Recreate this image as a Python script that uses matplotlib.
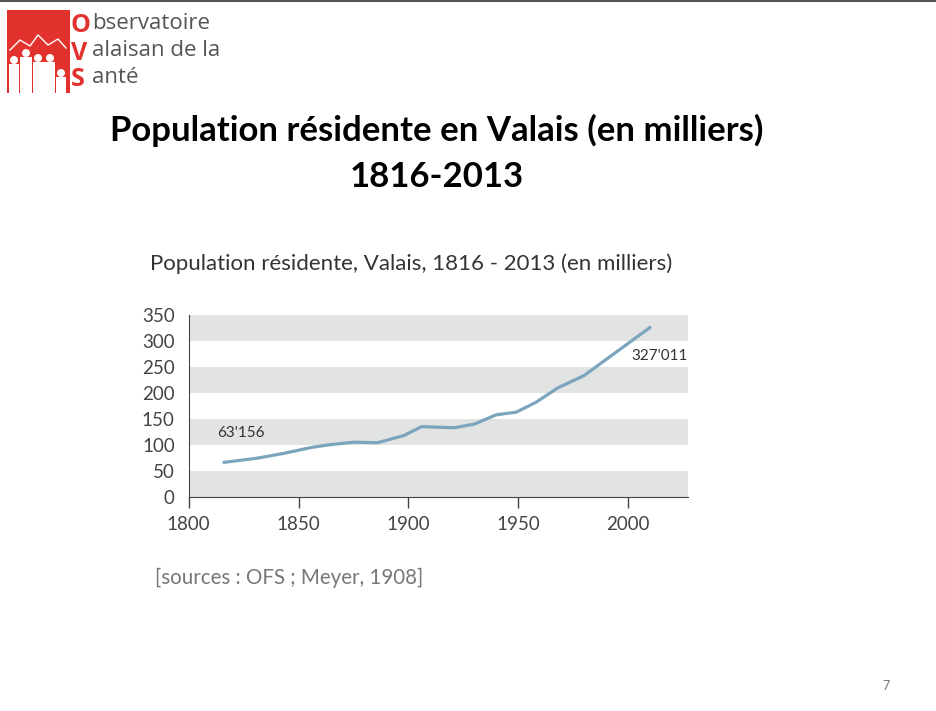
import matplotlib.pyplot as plt
from matplotlib.patches import Rectangle, Ellipse
from matplotlib.lines import Line2D

# valeurs (en milliers)
years = [1816, 1831, 1844, 1856, 1864, 1875, 1886, 1898, 1906, 1921, 1930, 1940, 1949, 1958, 1968, 1980, 1990, 2000, 2010]
pop = [66, 74, 84, 95, 100, 105, 104, 118, 135, 133, 140, 158, 163, 182, 210, 234, 265, 296, 327]
y_ticks = [0, 50, 100, 150, 200, 250, 300, 350]
x_ticks = [1800, 1850, 1900, 1950, 2000]
label_start = "63'156"
label_end = "327'011"

W, H = 937, 711
fig = plt.figure(figsize=(W / 100, H / 100), dpi=100)
fig.patch.set_facecolor('white')

def fx(px):
    return px / W

def fy(py):
    return 1 - py / H

# ligne grise en haut
fig.add_artist(Line2D([0, 1], [fy(1), fy(1)], color='#555555', lw=1.5))

# logo : carré rouge, montagnes et silhouettes blanches
red = '#e2322d'
fig.add_artist(Rectangle((fx(7), fy(93)), fx(63), 83 / H, color=red, lw=0))
fig.add_artist(Line2D([fx(10), fx(20), fx(30), fx(38), fx(48), fx(58), fx(66)],
                      [fy(50), fy(40), fy(46), fy(35), fy(45), fy(39), fy(48)], color='white', lw=1))
for cx, top, w in [(14, 60, 10), (26, 53, 12), (38, 58, 11), (50, 58, 11), (61, 73, 9)]:
    fig.add_artist(Ellipse((fx(cx), fy(top)), 8 / W, 8 / H, color='white', lw=0))
    fig.add_artist(Rectangle((fx(cx - w / 2), fy(93)), w / W, (93 - top - 4) / H, color='white', lw=0))
for i, (letter, rest) in enumerate([('O', 'bservatoire'), ('V', 'alaisan de la'), ('S', 'anté')]):
    yy = fy(26 + i * 27)
    fig.text(fx(71), yy, letter, color=red, fontsize=18, fontweight='bold',
             family='Open Sans', va='center', ha='left')
    fig.text(fx(92), yy + 0.004, rest, color='#555555', fontsize=16, family='Open Sans',
             va='center', ha='left')

# titre
fig.text(fx(437), fy(130), 'Population résidente en Valais (en milliers)', ha='center', va='center',
         fontsize=25, fontweight='bold', family='Lato', color='black')
fig.text(fx(437), fy(177), '1816-2013', ha='center', va='center',
         fontsize=25, fontweight='bold', family='Lato', color='black')

# sous-titre du graphique
fig.text(fx(150), fy(264), 'Population résidente, Valais, 1816 - 2013 (en milliers)', ha='left', va='center',
         fontsize=16, family='Lato', color='#333333')

y0, y350 = 496.5, 315.5
ax = fig.add_axes([fx(188.7), fy(y0), fx(688) - fx(188.7), (y0 - y350) / H])
x_max = 1800 + (688 - 188.7) / 2.197
ax.set_xlim(1800, x_max)
ax.set_ylim(0, 350)
for lo in [0, 100, 200, 300]:
    ax.axhspan(lo, lo + 50, color='#e2e3e3', lw=0, zorder=0)

ax.plot(years, pop, color='#7aa5bd', lw=2.3, solid_capstyle='round', zorder=3)
ax.text(1813, 123, label_start, fontsize=11, color='#333333', family='Lato', va='center', ha='left')
ax.text(x_max - 0.3, 272, label_end, fontsize=11, color='#333333', family='Lato', va='center', ha='right')

ax.set_yticks(y_ticks)
ax.set_xticks(x_ticks)
ax.tick_params(axis='y', length=0, pad=10, labelsize=13.5, labelcolor='#444444')
ax.tick_params(axis='x', length=8, width=1, color='#444444', pad=6, labelsize=13.5, labelcolor='#444444')
for lab in ax.get_xticklabels() + ax.get_yticklabels():
    lab.set_family('Lato')
ax.spines['top'].set_visible(False)
ax.spines['right'].set_visible(False)
ax.spines['left'].set_color('#444444')
ax.spines['bottom'].set_color('#444444')

fig.text(fx(155), fy(578), '[sources : OFS ; Meyer, 1908]', ha='left', va='center',
         fontsize=14.8, family='Lato', color='#777777')

fig.text(fx(886), fy(686), '7', ha='center', va='center', fontsize=9, family='Lato', color='#777777')

fig.savefig('out.png', dpi=100, facecolor='white')
